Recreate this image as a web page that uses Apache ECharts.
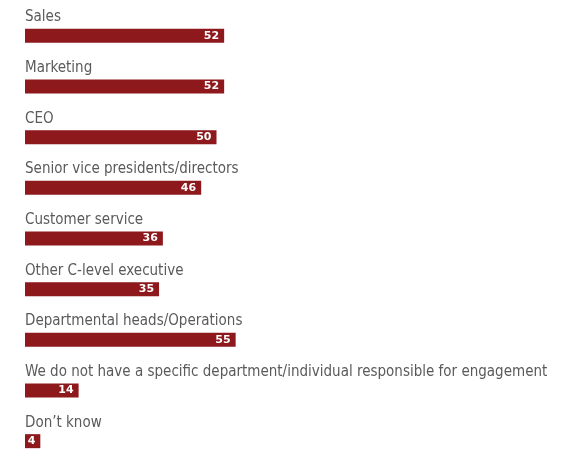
<!DOCTYPE html>
<html>
<head>
<meta charset="utf-8">
<script src="https://cdn.jsdelivr.net/npm/echarts@6/dist/echarts.min.js"></script>
<style>
  html, body { margin: 0; padding: 0; background: #fff; }
  #chart { width: 572px; height: 450px; }
</style>
</head>
<body>
<div id="chart"></div>
<script>
// Who is responsible for engagement (share of respondents)
const categories = [
  'Sales',
  'Marketing',
  'CEO',
  'Senior vice presidents/directors',
  'Customer service',
  'Other C-level executive',
  'Departmental heads/Operations',
  'We do not have a specific department/individual responsible for engagement',
  'Don\u2019t know'
];
const values = [52, 52, 50, 46, 36, 35, 55, 14, 4];

const chart = echarts.init(document.getElementById('chart'));
chart.setOption({
  animation: false,
  grid: {
    left: 25, width: 383, top: 10.5, height: 456,
    containLabel: false,
    outerBoundsMode: 'none'
  },
  xAxis: {
    type: 'value', min: 0, max: 100,
    show: false
  },
  yAxis: {
    type: 'category',
    inverse: true,
    data: categories,
    axisLine: { show: false },
    axisTick: { show: false },
    axisLabel: {
      inside: true,
      align: 'left',
      verticalAlign: 'bottom',
      padding: [0, 0, 11, 0],
      margin: 0,
      fontFamily: '"DejaVu Sans Condensed", "DejaVu Sans"',
      fontSize: 15,
      color: '#5a5a5a'
    }
  },
  series: [{
    type: 'bar',
    data: values,
    barWidth: 14,
    itemStyle: { color: '#8D191C' },
    label: {
      show: true,
      position: 'insideRight',
      distance: 5,
      color: '#ffffff',
      fontFamily: 'DejaVu Sans',
      fontWeight: 'bold',
      fontSize: 11
    }
  }]
});
</script>
</body>
</html>
